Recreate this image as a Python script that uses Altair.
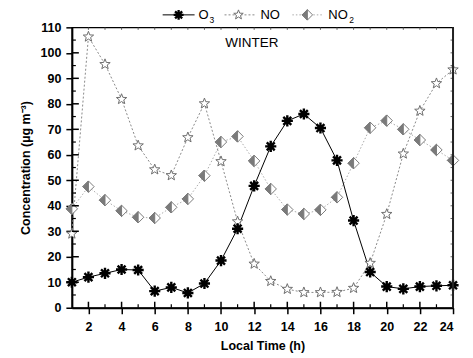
import altair as alt
import pandas as pd

hours = list(range(1, 25))
o3 = [10, 12, 13.5, 15, 14.8, 6.5, 8, 5.8, 9.5, 18.5, 31, 47.8, 63.3, 73.3, 76, 70.5,
      57.8, 34.2, 14, 8.3, 7.4, 8.3, 8.6, 8.8]
no = [29, 106.3, 95.5, 81.8, 63.6, 54.2, 51.9, 66.8, 80.1, 57.4, 33.8, 17.2, 10.4, 7.3,
      6, 6, 6.1, 7.7, 17.5, 36.7, 60.4, 77.2, 88, 93.4]
no2 = [38.8, 47.5, 42.2, 38, 35.5, 35.2, 39.4, 42.7, 51.8, 65, 67.2, 57.6, 46.6, 38.5,
       36.8, 38.4, 43.3, 56.7, 70.6, 73.4, 70, 65.8, 61.9, 57.8]

x_major = list(range(2, 25, 2))
x_minor = list(range(3, 24, 2))
y_major = list(range(10, 110, 10))
y_minor = list(range(5, 110, 10))

W, H = 382, 281
FONT = "Liberation Sans"

df = pd.DataFrame({"h": hours, "O3": o3, "NO": no, "NO2": no2})

xscale = alt.Scale(domain=[1, 24], nice=False, zero=False)
yscale = alt.Scale(domain=[0, 110], nice=False)
xaxis = alt.Axis(values=x_major, title="Local Time (h)", tickSize=6, labelPadding=7,
                 titlePadding=6, grid=False)
yaxis = alt.Axis(values=list(range(0, 111, 10)), title="Concentration (µg m⁻³)", tickSize=6,
                 labelPadding=5, titlePadding=8, grid=False)


def X():
    return alt.X("h:Q", scale=xscale, axis=xaxis)


def Y(field):
    return alt.Y(f"{field}:Q", scale=yscale, axis=yaxis)


ASTER = "M-1,0L1,0M0,-1L0,1M-0.71,-0.71L0.71,0.71M-0.71,0.71L0.71,-0.71"
DIAM = "M0,-1L1,0L0,1L-1,0Z"
HALF = "M0,-1L-1,0L0,1Z"
STAR = ("M0,-1L0.247,-0.34L0.951,-0.309L0.4,0.13L0.588,0.809L0,0.42L-0.588,0.809"
        "L-0.4,0.13L-0.951,-0.309L-0.247,-0.34Z")

base = alt.Chart(df)

no2_line = base.mark_line(color="#ababab", strokeDash=[1.5, 2], strokeWidth=1).encode(x=X(), y=Y("NO2"))
no_line = base.mark_line(color="#8a8a8a", strokeDash=[2, 2], strokeWidth=1).encode(x=X(), y=Y("NO"))
o3_line = base.mark_line(color="black", strokeWidth=1).encode(x=X(), y=Y("O3"))

no2_pts = base.mark_point(shape=DIAM, filled=True, fill="white", stroke="#7a7a7a",
                          strokeWidth=1, size=130, opacity=1).encode(x=X(), y=Y("NO2"))
no2_half = base.mark_point(shape=HALF, filled=True, fill="#7a7a7a", stroke="#7a7a7a",
                           strokeWidth=1, size=130, opacity=1).encode(x=X(), y=Y("NO2"))
no_pts = base.mark_point(shape=STAR, filled=True, fill="white", stroke="#6e6e6e",
                         strokeWidth=1, size=120, opacity=1).encode(x=X(), y=Y("NO"))
o3_pts = base.mark_point(shape=ASTER, filled=False, stroke="black", strokeWidth=2.4,
                         size=125, opacity=1).encode(x=X(), y=Y("O3"))

# inner ticks
xmaj_df = pd.DataFrame({"h": x_major})
xmin_df = pd.DataFrame({"h": x_minor})
ymaj_df = pd.DataFrame({"c": y_major})
ymin_df = pd.DataFrame({"c": y_minor})
top_df = pd.DataFrame({"h": list(range(2, 24))})
right_df = pd.DataFrame({"c": list(range(5, 110, 5))})
one = pd.DataFrame({"a": [0]})

yc = alt.Y("c:Q", scale=yscale, axis=yaxis)

tk_xmaj = alt.Chart(xmaj_df).mark_rule(color="black", strokeWidth=1.5).encode(
    x=X(), y=alt.value(H), y2=alt.value(H - 6))
tk_xmin = alt.Chart(xmin_df).mark_rule(color="black", strokeWidth=1.2).encode(
    x=X(), y=alt.value(H), y2=alt.value(H - 3.5))
tk_ymaj = alt.Chart(ymaj_df).mark_rule(color="black", strokeWidth=1.5).encode(
    y=yc, x=alt.value(0), x2=alt.value(7))
tk_ymin = alt.Chart(ymin_df).mark_rule(color="black", strokeWidth=1.2).encode(
    y=yc, x=alt.value(0), x2=alt.value(4))
tk_top = alt.Chart(top_df).mark_rule(color="#444444", strokeWidth=0.8).encode(
    x=X(), y=alt.value(0), y2=alt.value(2.5))
tk_right = alt.Chart(right_df).mark_rule(color="#444444", strokeWidth=0.8).encode(
    y=yc, x=alt.value(W), x2=alt.value(W - 2.5))
right_border = alt.Chart(one).mark_rule(color="#222222", strokeWidth=2).encode(
    x=alt.value(W), y=alt.value(0), y2=alt.value(H))

# annotation
ann = alt.Chart(pd.DataFrame({"h": [10.26], "c": [103.8], "t": ["WINTER"]})).mark_text(
    align="left", baseline="middle", fontSize=13.5, font=FONT, color="black").encode(
    x=X(), y=yc, text="t:N")

# manual legend
LY = -12.5
leg = []
leg.append(alt.Chart(one).mark_rule(color="black", strokeWidth=1).encode(
    x=alt.value(91), x2=alt.value(123), y=alt.value(LY)))
leg.append(alt.Chart(one).mark_point(shape=ASTER, filled=False, stroke="black", strokeWidth=2.3,
                                     size=100, opacity=1).encode(x=alt.value(107), y=alt.value(LY)))
leg.append(alt.Chart(one).mark_rule(color="#8a8a8a", strokeWidth=1, strokeDash=[2, 2]).encode(
    x=alt.value(153), x2=alt.value(183), y=alt.value(LY)))
leg.append(alt.Chart(one).mark_point(shape=STAR, filled=True, fill="white", stroke="#6e6e6e",
                                     strokeWidth=1, size=100, opacity=1).encode(x=alt.value(167), y=alt.value(LY)))
leg.append(alt.Chart(one).mark_rule(color="#ababab", strokeWidth=1, strokeDash=[1.5, 2]).encode(
    x=alt.value(221), x2=alt.value(251), y=alt.value(LY)))
leg.append(alt.Chart(one).mark_point(shape=DIAM, filled=True, fill="white", stroke="#7a7a7a",
                                     strokeWidth=1, size=110, opacity=1).encode(x=alt.value(236), y=alt.value(LY)))
leg.append(alt.Chart(one).mark_point(shape=HALF, filled=True, fill="#7a7a7a", stroke="#7a7a7a",
                                     strokeWidth=1, size=110, opacity=1).encode(x=alt.value(236), y=alt.value(LY)))
for px, txt in [(127, "O"), (189, "NO"), (257, "NO")]:
    leg.append(alt.Chart(one).mark_text(text=txt, align="left", baseline="middle", fontSize=13,
                                        font=FONT, color="black").encode(x=alt.value(px), y=alt.value(LY)))
for px, txt in [(138, "3"), (278, "2")]:
    leg.append(alt.Chart(one).mark_text(text=txt, align="left", baseline="middle", fontSize=8.5,
                                        font=FONT, color="black").encode(x=alt.value(px), y=alt.value(LY + 5)))

chart = alt.layer(
    no2_line, no_line, o3_line, no2_pts, no2_half, no_pts, o3_pts,
    tk_xmaj, tk_xmin, tk_ymaj, tk_ymin, tk_top, tk_right, right_border, ann, *leg
).properties(
    width=W, height=H,
    autosize=alt.AutoSizeParams(type="none"),
    padding={"left": 64, "top": 19, "right": 12, "bottom": 50},
).configure_view(
    stroke="black", strokeWidth=1.2
).configure_axis(
    domainColor="black", domainWidth=2, tickColor="black", tickWidth=1.5,
    labelFont=FONT, labelFontSize=12.5, labelFontWeight="bold", labelColor="black",
    titleFont=FONT, titleFontSize=12.5, titleFontWeight="bold", titleColor="black",
)

chart.save("out.html", embed_options={"renderer": "svg", "actions": False})
